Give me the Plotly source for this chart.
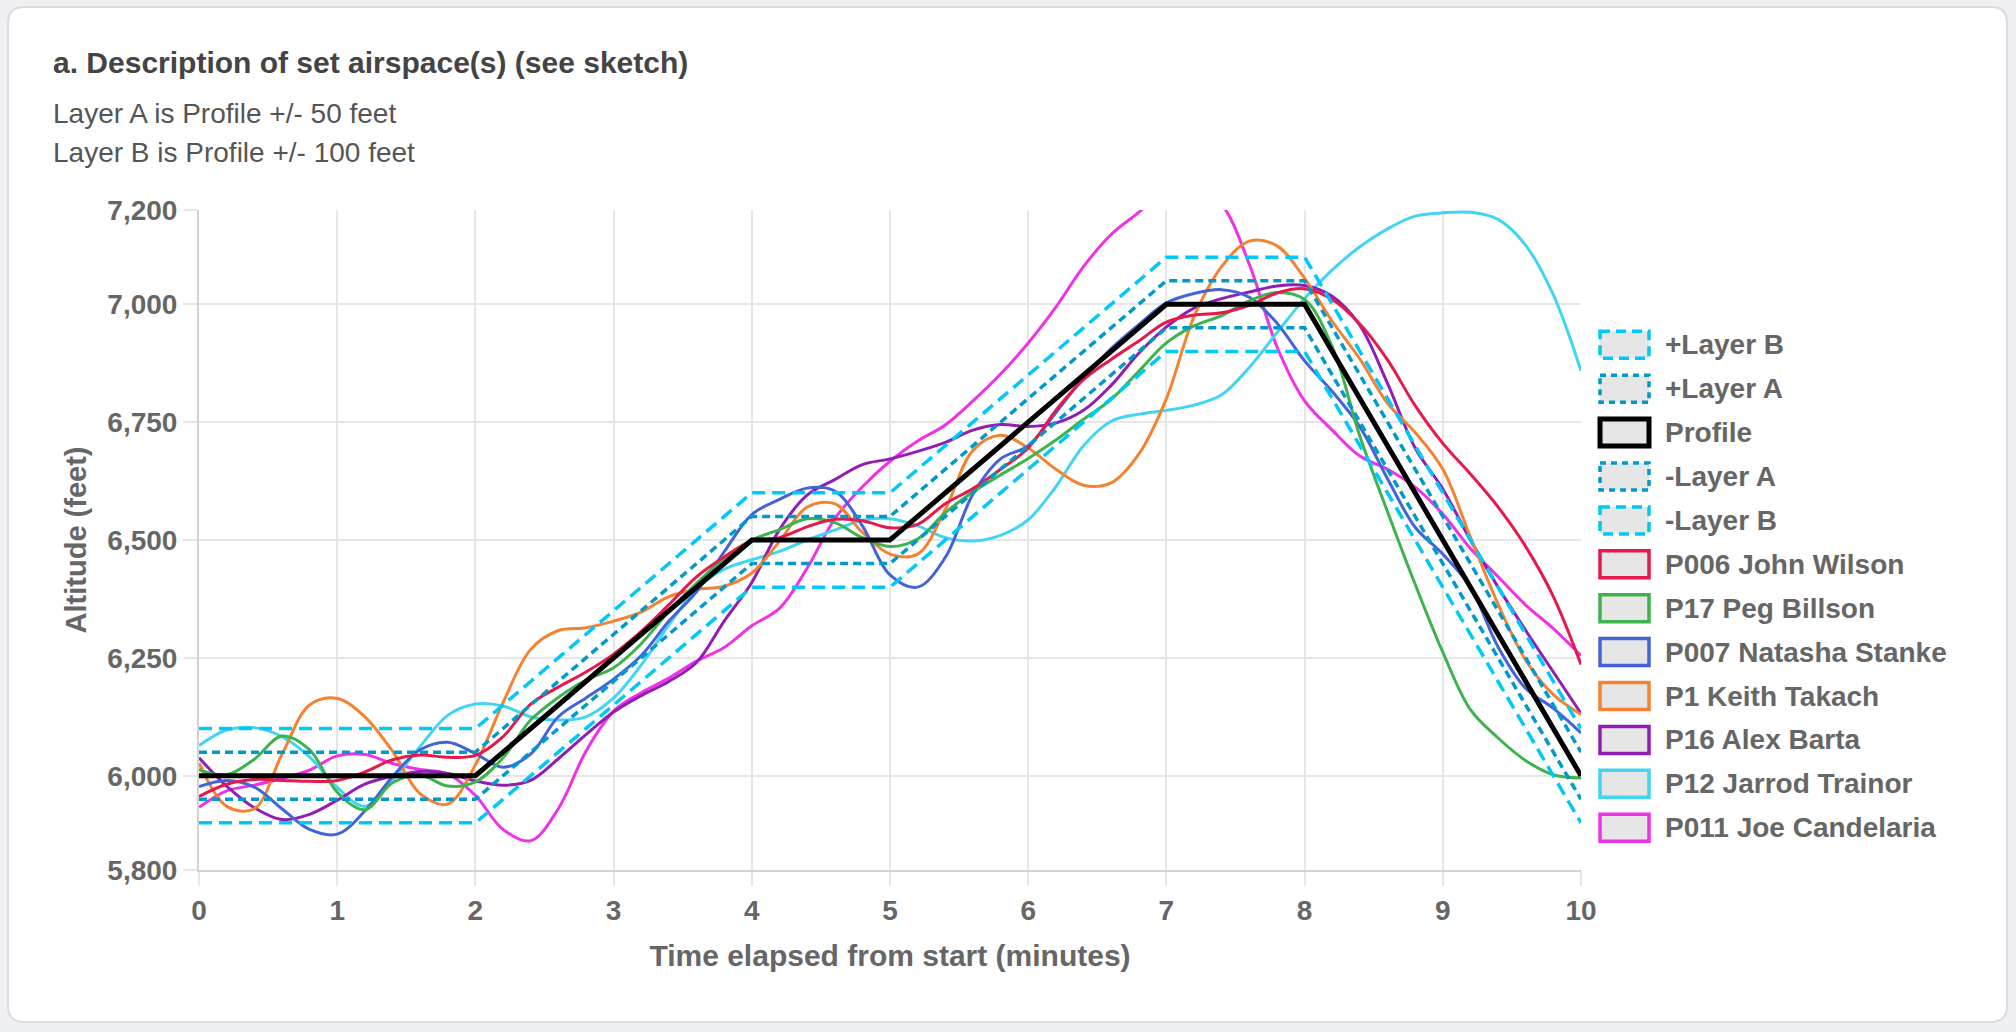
import plotly.graph_objects as go

# time axis (minutes) shared by every pilot track
minutes = [0.0, 0.2, 0.4, 0.6, 0.8, 1.0, 1.2, 1.4, 1.6, 1.8,
           2.0, 2.2, 2.4, 2.6, 2.8, 3.0, 3.2, 3.4, 3.6, 3.8,
           4.0, 4.2, 4.4, 4.6, 4.8, 5.0, 5.2, 5.4, 5.6, 5.8,
           6.0, 6.2, 6.4, 6.6, 6.8, 7.0, 7.2, 7.4, 7.6, 7.8,
           8.0, 8.2, 8.4, 8.6, 8.8, 9.0, 9.2, 9.4, 9.6, 9.8, 10.0]

# set airspace
profile_t = [0, 2, 4, 5, 7, 8, 10]
profile_alt = [6000, 6000, 6500, 6500, 7000, 7000, 6000]
layer_b_plus = [6100, 6100, 6600, 6600, 7100, 7100, 6100]
layer_a_plus = [6050, 6050, 6550, 6550, 7050, 7050, 6050]
layer_a_minus = [5950, 5950, 6450, 6450, 6950, 6950, 5950]
layer_b_minus = [5900, 5900, 6400, 6400, 6900, 6900, 5900]

# pilot altitudes (feet)
p006_wilson = [5956, 5982, 5992, 5990, 5988, 5990, 6008, 6034, 6044, 6039,
               6043, 6083, 6152, 6188, 6220, 6258, 6306, 6363, 6422, 6464,
               6498, 6505, 6528, 6544, 6541, 6526, 6533, 6577, 6609, 6650,
               6695, 6775, 6840, 6883, 6922, 6962, 6977, 6982, 6998, 7024,
               7033, 7010, 6958, 6882, 6785, 6705, 6640, 6570, 6486, 6380, 6236]
p17_billson = [6013, 6002, 6035, 6084, 6055, 5965, 5928, 5985, 6001, 5978,
               5987, 6038, 6118, 6166, 6203, 6229, 6280, 6349, 6408, 6461,
               6500, 6522, 6545, 6537, 6505, 6486, 6502, 6558, 6602, 6638,
               6673, 6712, 6756, 6798, 6858, 6918, 6954, 6976, 7007, 7025,
               7010, 6910, 6720, 6560, 6406, 6262, 6140, 6080, 6032, 6002, 5995]
p007_stanke = [5977, 5990, 5976, 5930, 5886, 5876, 5925, 5998, 6055, 6071,
               6047, 6018, 6046, 6125, 6165, 6205, 6255, 6328, 6390, 6475,
               6554, 6586, 6610, 6604, 6530, 6426, 6400, 6463, 6597, 6672,
               6700, 6770, 6844, 6906, 6957, 7003, 7023, 7031, 7015, 6960,
               6880, 6815, 6740, 6630, 6527, 6470, 6400, 6273, 6185, 6143, 6091]
p1_takach = [6027, 5935, 5930, 6045, 6150, 6164, 6125, 6052, 5962, 5940,
             6023, 6155, 6268, 6308, 6314, 6328, 6347, 6380, 6395, 6402,
             6430, 6497, 6570, 6577, 6516, 6470, 6470, 6565, 6690, 6722,
             6695, 6650, 6616, 6621, 6682, 6800, 6974, 7080, 7134, 7124,
             7055, 6964, 6884, 6790, 6728, 6650, 6506, 6364, 6245, 6172, 6130]
p16_barta = [6038, 5978, 5932, 5907, 5918, 5948, 5982, 5999, 6009, 6005,
             5989, 5980, 5990, 6036, 6087, 6135, 6170, 6200, 6240, 6328,
             6410, 6522, 6595, 6628, 6660, 6672, 6688, 6707, 6733, 6745,
             6741, 6748, 6775, 6828, 6896, 6952, 6992, 7012, 7026, 7039,
             7040, 7017, 6955, 6832, 6695, 6608, 6500, 6400, 6308, 6220, 6132]
p12_trainor = [6064, 6097, 6102, 6083, 6040, 5975, 5935, 5990, 6062, 6128,
               6152, 6148, 6125, 6118, 6125, 6165, 6235, 6320, 6396, 6438,
               6458, 6476, 6500, 6521, 6542, 6545, 6530, 6505, 6498, 6510,
               6543, 6613, 6700, 6752, 6767, 6775, 6786, 6808, 6866, 6940,
               7012, 7073, 7122, 7160, 7187, 7194, 7195, 7180, 7125, 7020, 6859]
p011_candelaria = [5933, 5968, 5980, 5994, 6012, 6042, 6045, 6026, 6013, 6004,
                   5958, 5886, 5862, 5930, 6052, 6137, 6176, 6207, 6243, 6272,
                   6318, 6355, 6440, 6545, 6613, 6667, 6710, 6744, 6795, 6852,
                   6918, 6994, 7080, 7148, 7195, 7245, 7255, 7212, 7085, 6910,
                   6795, 6733, 6678, 6650, 6612, 6555, 6482, 6422, 6362, 6312, 6255]

y_ticks = [5800, 6000, 6250, 6500, 6750, 7000, 7200]
x_ticks = [0, 1, 2, 3, 4, 5, 6, 7, 8, 9, 10]

FONT = "Liberation Sans, Arial, Helvetica, sans-serif"
GREY = "#666666"
LAYER_B = "#00c8f8"
LAYER_A = "#0099cc"

pilots = [
    ("P006 John Wilson", p006_wilson, "#e6194b"),
    ("P17 Peg Billson", p17_billson, "#3cb44b"),
    ("P007 Natasha Stanke", p007_stanke, "#4363d8"),
    ("P1 Keith Takach", p1_takach, "#f58231"),
    ("P16 Alex Barta", p16_barta, "#911eb4"),
    ("P12 Jarrod Trainor", p12_trainor, "#42d4f4"),
    ("P011 Joe Candelaria", p011_candelaria, "#f032e6"),
]

layers = [
    ("+Layer B", layer_b_plus, LAYER_B, "13px,7px", 3.5),
    ("+Layer A", layer_a_plus, LAYER_A, "8px,5px", 3.5),
    ("Profile", profile_alt, "#000000", "solid", 5),
    ("-Layer A", layer_a_minus, LAYER_A, "8px,5px", 3.5),
    ("-Layer B", layer_b_minus, LAYER_B, "13px,7px", 3.5),
]

fig = go.Figure()

# pilots drawn first so the airspace sits on top (last pilot lowest)
for name, alts, color in reversed(pilots):
    fig.add_trace(go.Scatter(x=minutes, y=alts, mode="lines", name=name,
                             line=dict(color=color, width=3, shape="spline"),
                             showlegend=False))

for name, alts, color, dash, width in reversed(layers):
    fig.add_trace(go.Scatter(x=profile_t, y=alts, mode="lines", name=name,
                             line=dict(color=color, width=width, dash=dash),
                             showlegend=False))

# plot area in pixels (figure is 2016 x 1032)
W, H = 2016, 1032
L, R, T, B = 199, 1581, 210, 870


def px(xp):
    return (xp - L) / (R - L)


def py(yp):
    return (B - yp) / (B - T)


# card behind the chart, with rounded corners
x0, x1, y0, y1, r = 8, 2007, 7, 1022, 16
card = (f"M {px(x0 + r)},{py(y0)} L {px(x1 - r)},{py(y0)} "
        f"Q {px(x1)},{py(y0)} {px(x1)},{py(y0 + r)} "
        f"L {px(x1)},{py(y1 - r)} Q {px(x1)},{py(y1)} {px(x1 - r)},{py(y1)} "
        f"L {px(x0 + r)},{py(y1)} Q {px(x0)},{py(y1)} {px(x0)},{py(y1 - r)} "
        f"L {px(x0)},{py(y0 + r)} Q {px(x0)},{py(y0)} {px(x0 + r)},{py(y0)} Z")
shapes = [dict(type="path", path=card, xref="paper", yref="paper",
               fillcolor="white", line=dict(color="#dcdcdc", width=2),
               layer="below")]

# legend drawn by hand: grey boxes with coloured borders
annotations = []
legend_rows = [(n, c, d, 5 if n == "Profile" else 3.5) for n, _, c, d, _ in layers]
legend_rows += [(n, c, "solid", 3.5) for n, _, c in pilots]
for i, (name, color, dash, width) in enumerate(legend_rows):
    cy = 344.8 + i * 43.9
    if dash == "13px,7px":
        dash = "10px,6px"
    elif dash == "8px,5px":
        dash = "6px,5px"
    shapes.append(dict(type="rect", xref="paper", yref="paper",
                       x0=px(1600), x1=px(1649), y0=py(cy - 13.5), y1=py(cy + 13.5),
                       fillcolor="#e6e6e6", line=dict(color=color, width=width, dash=dash),
                       layer="above"))
    annotations.append(dict(x=px(1663), y=py(cy), xref="paper", yref="paper",
                            text=f"<b>{name}</b>", showarrow=False,
                            xanchor="left", yanchor="middle",
                            font=dict(family=FONT, size=28, color=GREY)))

annotations.append(dict(x=px(51), y=py(62), xref="paper", yref="paper",
                        text="<b>a. Description of set airspace(s) (see sketch)</b>",
                        showarrow=False, xanchor="left", yanchor="middle",
                        font=dict(family=FONT, size=30, color="#444444")))
annotations.append(dict(x=px(51), y=py(113), xref="paper", yref="paper",
                        text="Layer A is Profile +/- 50 feet",
                        showarrow=False, xanchor="left", yanchor="middle",
                        font=dict(family=FONT, size=28, color="#555555")))
annotations.append(dict(x=px(51), y=py(152), xref="paper", yref="paper",
                        text="Layer B is Profile +/- 100 feet",
                        showarrow=False, xanchor="left", yanchor="middle",
                        font=dict(family=FONT, size=28, color="#555555")))

fig.update_layout(
    width=W, height=H,
    margin=dict(l=L, r=W - R, t=T, b=H - B, pad=0),
    paper_bgcolor="#eff0f4",
    plot_bgcolor="white",
    font=dict(family=FONT, color=GREY),
    shapes=shapes,
    annotations=annotations,
    showlegend=False,
    hovermode="x",
)

fig.update_xaxes(range=[0, 10], tickvals=x_ticks,
                 title=dict(text="<b>Time elapsed from start (minutes)</b>",
                            font=dict(size=30, color=GREY), standoff=20),
                 tickfont=dict(size=28, color=GREY, weight="bold"),
                 showgrid=True, gridcolor="#e6e6e6", gridwidth=2,
                 ticks="outside", ticklen=14, tickcolor="#e6e6e6", tickwidth=2,
                 showline=True, linecolor="#d2d2d2", linewidth=2,
                 zeroline=False)

fig.update_yaxes(range=[5800, 7200], tickvals=y_ticks, tickformat=",d",
                 title=dict(text="<b>Altitude (feet)</b>",
                            font=dict(size=29, color=GREY), standoff=12),
                 tickfont=dict(size=28, color=GREY, weight="bold"),
                 showgrid=True, gridcolor="#e6e6e6", gridwidth=2,
                 ticks="outside", ticklen=14, tickcolor="#e6e6e6", tickwidth=2,
                 showline=True, linecolor="#d2d2d2", linewidth=2,
                 zeroline=False)

fig.write_html("out.html", config={"displayModeBar": False},
               post_script="document.body.style.margin='0';")
